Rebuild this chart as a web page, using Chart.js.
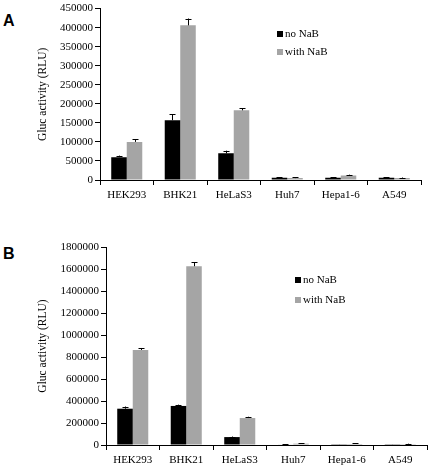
<!DOCTYPE html>
<html>
<head>
    <title>Gluc activity</title>
    <script src="https://cdn.jsdelivr.net/npm/chart.js"></script>
    <style>
        body { margin: 0; background: #fff; width: 430px; height: 471px; position: relative; overflow: hidden; }
        canvas { position: absolute; left: 0; }
        .panel-label { position: absolute; font: bold 16px 'Liberation Sans', Arial, sans-serif; line-height: 16px; color: #000; }
    </style>
</head>
<body>
    <div class="panel-label" style="left:3px; top:13px;">A</div>
    <canvas id="chart-a" width="430" height="215" style="top:0px;"></canvas>
    <div class="panel-label" style="left:3px; top:246px;">B</div>
    <canvas id="chart-b" width="430" height="241" style="top:230px;"></canvas>

    <script>
        // Cell lines on the x axis
        const cellLines = ['HEK293', 'BHK21', 'HeLaS3', 'Huh7', 'Hepa1-6', 'A549'];
        const seriesNames = ['no NaB', 'with NaB'];

        // Panel A values (RLU) and upper error
        const panelA_noNaB = [60000, 157000, 70000, 6000, 6000, 6000];
        const panelA_withNaB = [100000, 406000, 183000, 5000, 12000, 5000];
        const panelA_errNo = [4000, 15000, 7000, 1000, 1000, 1000];
        const panelA_errWith = [7000, 18000, 6000, 2000, 2000, 1500];

        // Panel B values (RLU) and upper error
        const panelB_noNaB = [330000, 355000, 72000, 5000, 2000, 2000];
        const panelB_withNaB = [864000, 1625000, 245000, 12000, 9000, 8000];
        const panelB_errNo = [20000, 12000, 5000, 2000, 1000, 1000];
        const panelB_errWith = [18000, 38000, 12000, 5000, 5000, 4000];

        // Y axis tick settings
        const panelA_yMax = 450000, panelA_yStep = 50000;
        const panelB_yMax = 1800000, panelB_yStep = 200000;

        const serif = "'Liberation Serif', 'Times New Roman', serif";

        // Draws the upper error bars on top of each bar
        const errorBars = {
            id: 'errorBars',
            afterDatasetsDraw(chart) {
                const ctx = chart.ctx;
                const y = chart.scales.y;
                ctx.save();
                ctx.strokeStyle = '#000';
                ctx.lineWidth = 1;
                chart.data.datasets.forEach((ds, i) => {
                    const meta = chart.getDatasetMeta(i);
                    meta.data.forEach((bar, j) => {
                        const top = y.getPixelForValue(ds.data[j] + ds.errors[j]);
                        const x = Math.round(bar.x) + 0.5;
                        ctx.beginPath();
                        ctx.moveTo(x, bar.y);
                        ctx.lineTo(x, top);
                        ctx.moveTo(x - 3, Math.round(top) + 0.5);
                        ctx.lineTo(x + 3, Math.round(top) + 0.5);
                        ctx.stroke();
                    });
                });
                ctx.restore();
            }
        };

        // Small legend placed inside the plot
        const boxLegend = {
            id: 'boxLegend',
            afterDraw(chart, args, opts) {
                const ctx = chart.ctx;
                ctx.save();
                ctx.font = '11px ' + serif;
                ctx.textBaseline = 'middle';
                chart.data.datasets.forEach((ds, i) => {
                    const yy = opts.y + i * opts.gap;
                    ctx.fillStyle = ds.backgroundColor;
                    ctx.fillRect(opts.x, yy - 3, 6, 6);
                    ctx.fillStyle = '#000';
                    ctx.fillText(ds.label, opts.x + 8, yy);
                });
                ctx.restore();
            }
        };

        const makePanel = (id, noNaB, withNaB, errNo, errWith, yMax, yStep, layout) => {
            new Chart(document.getElementById(id), {
                type: 'bar',
                data: {
                    labels: cellLines,
                    datasets: [
                        { label: seriesNames[0], data: noNaB, errors: errNo, backgroundColor: '#000000' },
                        { label: seriesNames[1], data: withNaB, errors: errWith, backgroundColor: '#a5a5a5' }
                    ]
                },
                options: {
                    responsive: false,
                    animation: false,
                    categoryPercentage: 0.58,
                    barPercentage: 1.0,
                    layout: { padding: { top: layout.top, right: layout.right, left: 0, bottom: 0 } },
                    plugins: {
                        legend: { display: false },
                        tooltip: { enabled: false },
                        boxLegend: { x: layout.legX, y: layout.legY, gap: layout.legGap }
                    },
                    scales: {
                        x: {
                            grid: { display: true, offset: true, drawOnChartArea: false, tickLength: 5, color: '#000' },
                            border: { color: '#000' },
                            ticks: { color: '#000', font: { family: serif, size: 11 }, padding: 4, maxRotation: 0, autoSkip: false },
                            afterFit: s => { s.height = layout.xHeight; }
                        },
                        y: {
                            min: 0,
                            max: yMax,
                            grid: { drawOnChartArea: false, tickLength: 5, color: '#000' },
                            border: { color: '#000' },
                            ticks: {
                                stepSize: yStep,
                                color: '#000',
                                padding: 2,
                                font: { family: serif, size: 11 },
                                callback: v => String(v)
                            },
                            title: {
                                display: true,
                                text: 'Gluc activity (RLU)',
                                color: '#000',
                                font: { family: serif, size: 11.5 },
                                padding: { top: 36, bottom: 0 }
                            },
                            afterFit: s => { s.width = layout.yWidth; }
                        }
                    }
                },
                plugins: [errorBars, boxLegend]
            });
        };

        makePanel('chart-a', panelA_noNaB, panelA_withNaB, panelA_errNo, panelA_errWith, panelA_yMax, panelA_yStep,
            { top: 6, right: 9, xHeight: 35, yWidth: 100, legX: 277, legY: 34, legGap: 18 });
        makePanel('chart-b', panelB_noNaB, panelB_withNaB, panelB_errNo, panelB_errWith, panelB_yMax, panelB_yStep,
            { top: 17, right: 3, xHeight: 26, yWidth: 106, legX: 295, legY: 50, legGap: 20 });
    </script>
</body>
</html>
